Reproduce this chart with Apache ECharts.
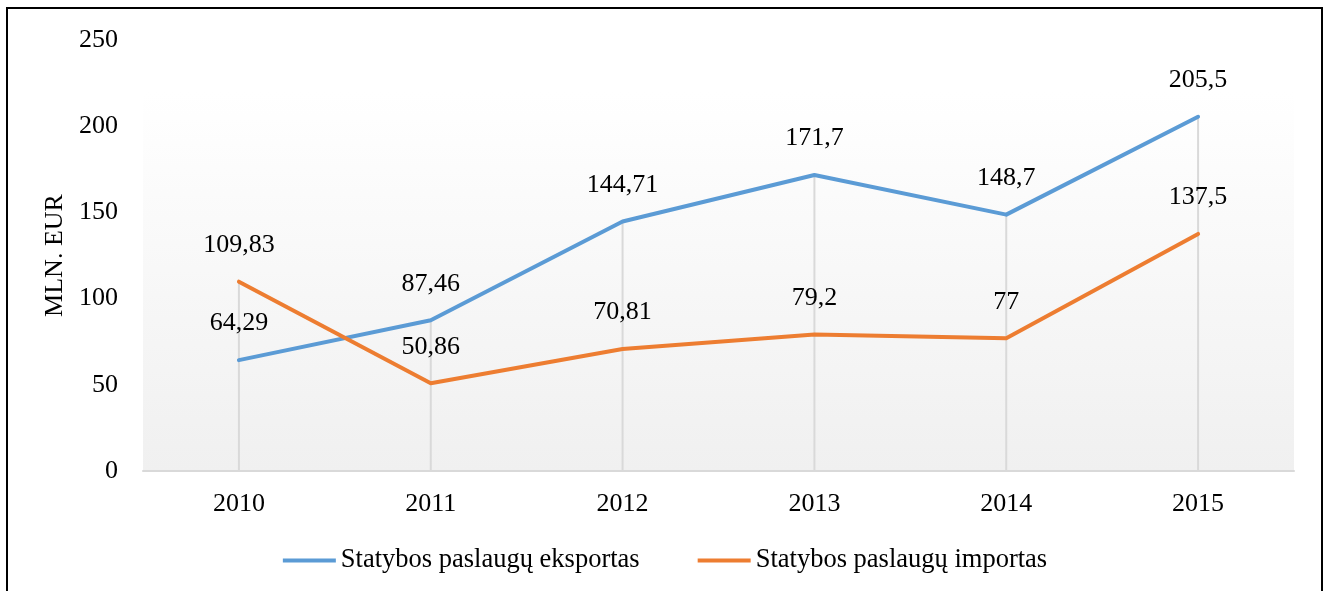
<!DOCTYPE html>
<html>
<head>
<meta charset="utf-8">
<script src="https://cdn.jsdelivr.net/npm/echarts@6/dist/echarts.min.js"></script>
<style>
  html, body { margin: 0; padding: 0; background: #fff; }
  #myCharts { width: 1330px; height: 591px; }
</style>
</head>
<body>
<div id="myCharts"></div>
<script>
var years = ["2010", "2011", "2012", "2013", "2014", "2015"];
var eksportas = [64.29, 87.46, 144.71, 171.7, 148.7, 205.5];
var importas = [109.83, 50.86, 70.81, 79.2, 77, 137.5];
var yTicks = [0, 50, 100, 150, 200, 250];

var nameExp = "Statybos paslaugų eksportas";
var nameImp = "Statybos paslaugų importas";
var font = "'Liberation Serif', 'Times New Roman', serif";

// drop lines go from the higher of the two points down to the axis
var dropLines = years.map(function (y, i) {
  return Math.max(eksportas[i], importas[i]);
});

function fmt(p) {
  return String(p.value).replace(".", ",");
}

var myChart = echarts.init(document.getElementById("myCharts"));
var option = {
  animation: false,
  textStyle: { fontFamily: font },
  graphic: [
    {
      type: "rect",
      shape: { x: 7, y: 8, width: 1315, height: 620 },
      style: { fill: "none", stroke: "#000", lineWidth: 2 },
      silent: true
    }
  ],
  grid: {
    left: 143,
    right: 36,
    top: 40,
    bottom: 120,
    show: true,
    borderWidth: 0,
    backgroundColor: {
      type: "linear",
      x: 0, y: 0, x2: 0, y2: 1,
      colorStops: [
        { offset: 0, color: "#ffffff" },
        { offset: 0.12, color: "#ffffff" },
        { offset: 1, color: "#f0f0f0" }
      ]
    }
  },
  legend: {
    data: [nameExp, nameImp],
    left: "center",
    top: 542,
    icon: "rect",
    itemWidth: 53,
    itemHeight: 4,
    itemGap: 58,
    textStyle: { fontFamily: font, fontSize: 26.5, color: "#000" }
  },
  xAxis: {
    type: "category",
    data: years,
    boundaryGap: true,
    axisLine: { show: true, lineStyle: { color: "#d9d9d9", width: 2 } },
    axisTick: { show: false },
    splitLine: { show: false },
    axisLabel: { fontFamily: font, fontSize: 26, color: "#000", margin: 20 }
  },
  yAxis: {
    type: "value",
    min: yTicks[0],
    max: yTicks[yTicks.length - 1],
    interval: 50,
    name: "MLN. EUR",
    nameLocation: "middle",
    nameGap: 74,
    nameRotate: 90,
    nameTextStyle: { fontFamily: font, fontSize: 26, color: "#000" },
    axisLine: { show: false },
    axisTick: { show: false },
    splitLine: { show: false },
    axisLabel: { fontFamily: font, fontSize: 26, color: "#000", margin: 25 }
  },
  series: [
    {
      name: "drop",
      type: "bar",
      data: dropLines,
      barWidth: 2,
      silent: true,
      z: 1,
      itemStyle: { color: "#d9d9d9" }
    },
    {
      name: nameExp,
      type: "line",
      data: eksportas,
      symbol: "circle",
      symbolSize: 1,
      showSymbol: true,
      z: 3,
      lineStyle: { color: "#5b9bd5", width: 4, cap: "round", join: "round" },
      itemStyle: { color: "#5b9bd5" },
      label: {
        show: true,
        position: "top",
        distance: 23,
        formatter: fmt,
        fontFamily: font,
        fontSize: 26,
        color: "#000"
      }
    },
    {
      name: nameImp,
      type: "line",
      data: importas,
      symbol: "circle",
      symbolSize: 1,
      showSymbol: true,
      z: 3,
      lineStyle: { color: "#ed7d31", width: 4, cap: "round", join: "round" },
      itemStyle: { color: "#ed7d31" },
      label: {
        show: true,
        position: "top",
        distance: 23,
        formatter: fmt,
        fontFamily: font,
        fontSize: 26,
        color: "#000"
      }
    }
  ]
};
myChart.setOption(option);
</script>
</body>
</html>
